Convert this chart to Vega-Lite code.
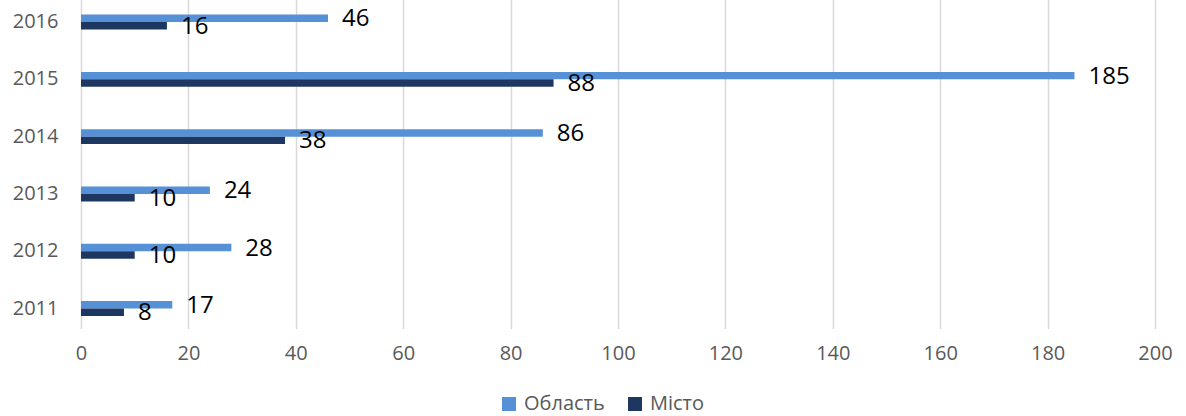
{
  "$schema": "https://vega.github.io/schema/vega-lite/v6.json",
  "autosize": {"type": "none"},
  "width": 1074,
  "height": 322,
  "padding": {"left": 81, "top": 0, "right": 31, "bottom": 94},
  "background": "white",
  "config": {
    "view": {"stroke": null},
    "font": "Open Sans"
  },
  "data": {
    "values": [
      {"year": "2016", "series": "Область", "value": 46},
      {"year": "2016", "series": "Місто", "value": 16},
      {"year": "2015", "series": "Область", "value": 185},
      {"year": "2015", "series": "Місто", "value": 88},
      {"year": "2014", "series": "Область", "value": 86},
      {"year": "2014", "series": "Місто", "value": 38},
      {"year": "2013", "series": "Область", "value": 24},
      {"year": "2013", "series": "Місто", "value": 10},
      {"year": "2012", "series": "Область", "value": 28},
      {"year": "2012", "series": "Місто", "value": 10},
      {"year": "2011", "series": "Область", "value": 17},
      {"year": "2011", "series": "Місто", "value": 8}
    ]
  },
  "encoding": {
    "y": {
      "field": "year",
      "type": "nominal",
      "scale": {
        "domain": ["2016", "2015", "2014", "2013", "2012", "2011"],
        "range": [-6.6, 337.2],
        "paddingInner": 0.74,
        "paddingOuter": 0.37
      },
      "axis": {
        "title": null,
        "domain": false,
        "ticks": false,
        "labelPadding": 23,
        "labelFontSize": 20,
        "labelColor": "#595959",
        "labelFont": "Open Sans"
      }
    },
    "yOffset": {
      "field": "series",
      "type": "nominal",
      "scale": {"domain": ["Область", "Місто"], "paddingInner": 0, "paddingOuter": 0}
    },
    "x": {
      "field": "value",
      "type": "quantitative",
      "scale": {"domain": [0, 200], "nice": false},
      "axis": {
        "title": null,
        "values": [0, 20, 40, 60, 80, 100, 120, 140, 160, 180, 200],
        "domain": false,
        "ticks": false,
        "grid": true,
        "gridColor": "#D9D9D9",
        "gridWidth": 1.5,
        "labelFlush": false,
        "labelPadding": 21,
        "labelFontSize": 20,
        "labelColor": "#595959",
        "labelFont": "Open Sans"
      }
    }
  },
  "layer": [
    {
      "mark": {"type": "bar"},
      "encoding": {
        "color": {
          "field": "series",
          "type": "nominal",
          "scale": {"domain": ["Область", "Місто"], "range": ["#5690D6", "#1D3761"]},
          "legend": {
            "title": null,
            "orient": "none",
            "direction": "horizontal",
            "legendX": 418,
            "legendY": 394,
            "symbolType": "square",
            "symbolSize": 196,
            "symbolStrokeWidth": 0,
            "symbolOpacity": 1,
            "labelFontSize": 20,
            "labelColor": "#595959",
            "labelFont": "Open Sans",
            "labelOffset": 5,
            "columnPadding": 20
          }
        }
      }
    },
    {
      "mark": {"type": "text", "align": "left", "baseline": "middle", "dx": 14, "dy": 1, "fontSize": 24, "color": "black", "font": "Open Sans"},
      "encoding": {
        "text": {"field": "value", "type": "quantitative"}
      }
    }
  ]
}
